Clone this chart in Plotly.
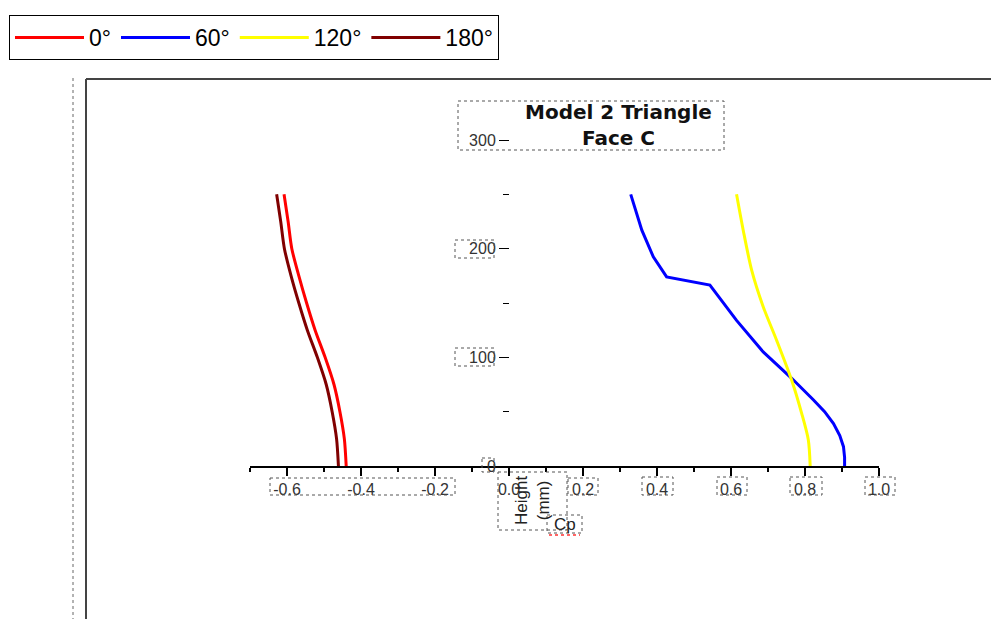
import plotly.graph_objects as go

# ---------------- data ----------------
heights = [0, 25, 50, 75, 100, 125, 150, 175, 200, 225, 250]
cp_0 = [-0.440, -0.445, -0.457, -0.473, -0.497, -0.524, -0.547, -0.568, -0.587, -0.597, -0.608]
cp_180 = [-0.461, -0.466, -0.478, -0.494, -0.518, -0.545, -0.568, -0.589, -0.607, -0.617, -0.628]

heights_60 = [0, 8, 17.8, 28, 39, 50, 60.7, 80.7, 105, 134, 166.5, 174, 192.5, 217, 250]
cp_60 = [0.907, 0.907, 0.904, 0.894, 0.877, 0.853, 0.823, 0.764, 0.687, 0.615, 0.543, 0.426, 0.390, 0.359, 0.329]

heights_120 = [0, 24, 48.5, 79, 116, 146.6, 180, 217, 250]
cp_120 = [0.814, 0.809, 0.791, 0.764, 0.723, 0.687, 0.656, 0.633, 0.615]

series_names = ["0°", "60°", "120°", "180°"]
series_colors = ["#ff0000", "#0000ff", "#ffff00", "#800000"]
series_shapes = ["spline", "linear", "spline", "spline"]

x_tickvals = [-0.6, -0.4, -0.2, 0.0, 0.2, 0.4, 0.6, 0.8, 1.0]
x_ticktext = ["-0.6", "-0.4", "-0.2", "0.0", "0.2", "0.4", "0.6", "0.8", "1.0"]
x_minor = [-0.7, -0.5, -0.3, -0.1, 0.1, 0.3, 0.5, 0.7, 0.9]
y_tickvals = [0, 100, 200, 300]
y_ticktext = ["0", "100", "200", "300"]
y_minor = [50, 150, 250]

# ---------------- figure ----------------
OFF = 8  # page body margin
W, H = 999 - OFF, 619 - OFF
L, R, T, B = 250 - OFF, 120, 140 - OFF, 153
PW, PH = W - L - R, H - T - B


def px(x):
    return (x - OFF - L) / PW


def py(y):
    return (H - B - (y - OFF)) / PH


fig = go.Figure()
xs = [cp_0, cp_60, cp_120, cp_180]
ys = [heights, heights_60, heights_120, heights]
for name, color, shp, xv, yv in zip(series_names, series_colors, series_shapes, xs, ys):
    fig.add_trace(go.Scatter(x=xv, y=yv, mode="lines", name=name,
                             line=dict(color=color, width=3, shape=shp, smoothing=0.8)))

font = "Liberation Sans, Arial, sans-serif"

shapes = []
shapes.append(dict(type="line", xref="paper", yref="paper", x0=px(86), x1=px(1005), y0=py(79), y1=py(79),
                   line=dict(color="#444", width=2)))
shapes.append(dict(type="line", xref="paper", yref="paper", x0=px(86), x1=px(86), y0=py(79), y1=py(625),
                   line=dict(color="#444", width=2)))
shapes.append(dict(type="line", xref="paper", yref="paper", x0=px(73), x1=px(73), y0=py(78), y1=py(625),
                   line=dict(color="#666", width=1, dash="dot")))

boxes = [(458, 101, 724, 150), (270, 478, 455, 495), (568, 478, 598, 495), (642, 477, 673, 495),
         (717, 477, 747, 495), (790, 477, 822, 495), (865, 477, 895, 495), (455, 240, 494, 258),
         (455, 348, 494, 366), (482, 458, 494, 472), (498, 472, 567, 530), (547, 515, 582, 533)]
for x0, y0, x1, y1 in boxes:
    shapes.append(dict(type="rect", xref="paper", yref="paper", x0=px(x0), x1=px(x1), y0=py(y0), y1=py(y1),
                       line=dict(color="#555", width=1, dash="dot"), fillcolor="rgba(0,0,0,0)"))
shapes.append(dict(type="line", xref="paper", yref="paper", x0=px(549), x1=px(580), y0=py(535), y1=py(535),
                   line=dict(color="#ff3333", width=1.5, dash="dot")))

annotations = [
    dict(text="<b>Model 2 Triangle</b><br><b>Face C</b>", xref="paper", yref="paper",
         x=px(618), y=py(125), xanchor="center", yanchor="middle", showarrow=False,
         font=dict(family="DejaVu Sans, sans-serif", size=20, color="#111"), align="center"),
    dict(text="Height<br>(mm)", xref="paper", yref="paper", x=px(532), y=py(501),
         xanchor="center", yanchor="middle", showarrow=False, textangle=-90,
         font=dict(family=font, size=17, color="#222"), align="center"),
    dict(text="Cp", xref="paper", yref="paper", x=px(565), y=py(524),
         xanchor="center", yanchor="middle", showarrow=False,
         font=dict(family=font, size=17, color="#222")),
]

fig.update_layout(
    width=W, height=H,
    margin=dict(l=L, r=R, t=T, b=B, pad=0),
    paper_bgcolor="white", plot_bgcolor="white",
    font=dict(family=font, size=16, color="#333"),
    showlegend=True,
    legend=dict(orientation="h", xref="container", yref="container", x=1 / W, y=1 - 7 / H,
                xanchor="left", yanchor="top", bordercolor="black", borderwidth=1,
                bgcolor="white", font=dict(family=font, size=23, color="black"),
                itemwidth=69, tracegroupgap=0),
    xaxis=dict(range=[-0.7, 1.0], showgrid=False, zeroline=False, showline=True,
               linecolor="black", linewidth=1.5, ticks="outside", ticklen=8, tickwidth=1.5,
               tickcolor="black", tickvals=x_tickvals, ticktext=x_ticktext,
               tickfont=dict(family=font, size=16, color="#333"),
               minor=dict(tickvals=x_minor, ticks="outside", ticklen=4, tickcolor="black", tickwidth=1.5),
               fixedrange=True),
    yaxis=dict(range=[0, 300], showgrid=False, zeroline=False, showline=False,
               anchor="free", position=px(509), ticks="outside", ticklen=10, tickwidth=1,
               tickcolor="black", tickvals=y_tickvals, ticktext=y_ticktext,
               tickfont=dict(family=font, size=16, color="#333"),
               minor=dict(tickvals=y_minor, ticks="outside", ticklen=6, tickcolor="black"),
               fixedrange=True),
    shapes=shapes,
    annotations=annotations,
)

fig.write_html("out.html")
